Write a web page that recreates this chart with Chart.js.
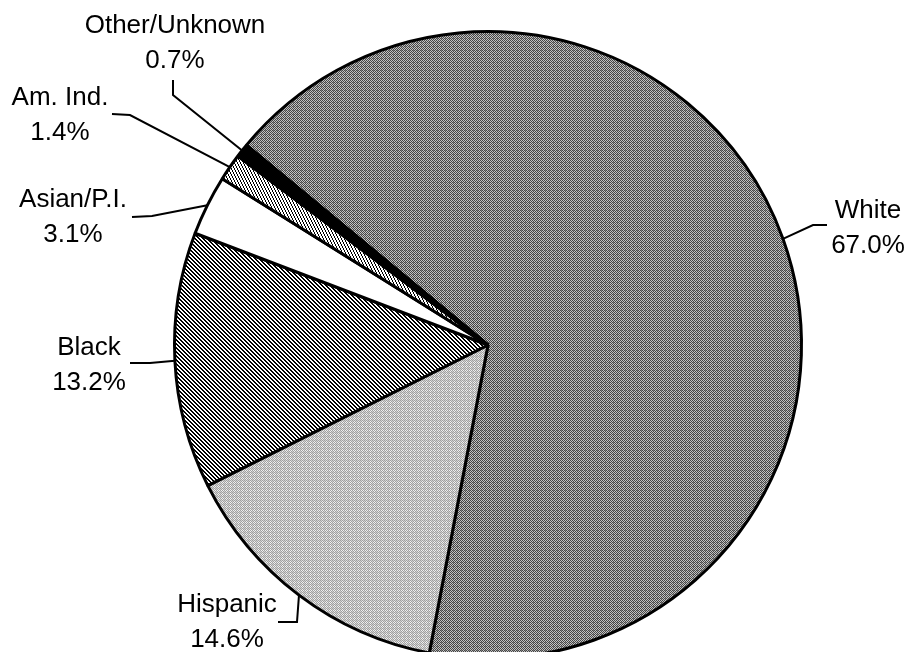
<!DOCTYPE html>
<html>
<head>
  <title>Race/Ethnicity Share</title>
  <script src="https://cdn.jsdelivr.net/npm/chart.js"></script>
  <style>
    body { margin: 0; background: #fff; overflow: hidden; }
    #wrap { width: 913px; height: 652px; overflow: hidden; }
  </style>
</head>
<body>
<div id="wrap">
  <canvas id="pieChart" width="913" height="700"></canvas>
</div>

<script>
  // data
  const categories = ['White', 'Hispanic', 'Black', 'Asian/P.I.', 'Am. Ind.', 'Other/Unknown'];
  const shares = [67.0, 14.6, 13.2, 3.1, 1.4, 0.7];

  // where each label sits and how its leader line bends (page pixels)
  const labelSpots = [
    { cx: 868, base: 218, bend: [[813, 225], [827, 225]] },
    { cx: 227, base: 612, bend: [[297, 622], [278, 622]] },
    { cx: 89,  base: 355, bend: [[150, 363], [130, 363]] },
    { cx: 73,  base: 207, bend: [[152, 216], [132, 217]] },
    { cx: 60,  base: 105, bend: [[130, 115], [112, 114]] },
    { cx: 175, base: 33,  bend: [[173, 95], [173, 80]] }
  ];

  function makeTile(w, h, paint) {
    const c = document.createElement('canvas');
    c.width = w; c.height = h;
    const g = c.getContext('2d');
    const img = g.createImageData(w, h);
    for (let y = 0; y < h; y++) {
      for (let x = 0; x < w; x++) {
        const v = paint(x, y);
        const i = (y * w + x) * 4;
        img.data[i] = img.data[i + 1] = img.data[i + 2] = v;
        img.data[i + 3] = 255;
      }
    }
    g.putImageData(img, 0, 0);
    return g.createPattern(c, 'repeat');
  }

  const ctx = document.getElementById('pieChart').getContext('2d');

  // dithered greys and hatching, like the printed original
  const whiteFill = makeTile(4, 4, (x, y) => ((x + y) % 2 === 0) ? 70 : ((x % 4 === 1 && y % 4 === 2) ? 130 : 195));
  const hispFill = makeTile(4, 4, (x, y) => ((x + y) % 2 === 0) ? 160 : ((x % 4 === 0 || y % 4 === 0) ? 210 : 240));
  const blackFill = makeTile(4, 4, (x, y) => (((x - y) % 4 + 4) % 4 < 2) ? 0 : 255);
  const amIndFill = makeTile(3, 6, (x, y) => (((x - Math.floor(y / 2)) % 3 + 3) % 3 === 0) ? 0 : 255);

  const fills = [whiteFill, hispFill, blackFill, '#ffffff', amIndFill, '#000000'];

  const labelPlugin = {
    id: 'leaderLabels',
    afterDatasetsDraw(chart) {
      const g = chart.ctx;
      const arcs = chart.getDatasetMeta(0).data;
      g.save();
      g.strokeStyle = '#000';
      g.lineWidth = 2;
      g.fillStyle = '#000';
      g.font = '26px "Liberation Sans", Arial, sans-serif';
      g.textAlign = 'center';
      g.textBaseline = 'alphabetic';
      arcs.forEach((arc, i) => {
        const p = arc.getProps(['x', 'y', 'startAngle', 'endAngle', 'outerRadius'], true);
        const mid = (p.startAngle + p.endAngle) / 2;
        const ex = p.x + Math.cos(mid) * p.outerRadius;
        const ey = p.y + Math.sin(mid) * p.outerRadius;
        const spot = labelSpots[i];
        g.beginPath();
        g.moveTo(ex, ey);
        spot.bend.forEach(pt => g.lineTo(pt[0], pt[1]));
        g.stroke();
        g.fillText(categories[i], spot.cx, spot.base);
        g.fillText(shares[i].toFixed(1) + '%', spot.cx, spot.base + 35);
      });
      g.restore();
    }
  };

  new Chart(ctx, {
    type: 'pie',
    data: {
      labels: categories,
      datasets: [{
        data: shares,
        backgroundColor: fills,
        borderColor: '#000',
        borderWidth: 3
      }]
    },
    options: {
      responsive: false,
      animation: false,
      rotation: -50.4,
      layout: { padding: { top: 30, bottom: 40, left: 173, right: 110 } },
      plugins: {
        legend: { display: false },
        tooltip: { enabled: false }
      }
    },
    plugins: [labelPlugin]
  });
</script>
</body>
</html>
